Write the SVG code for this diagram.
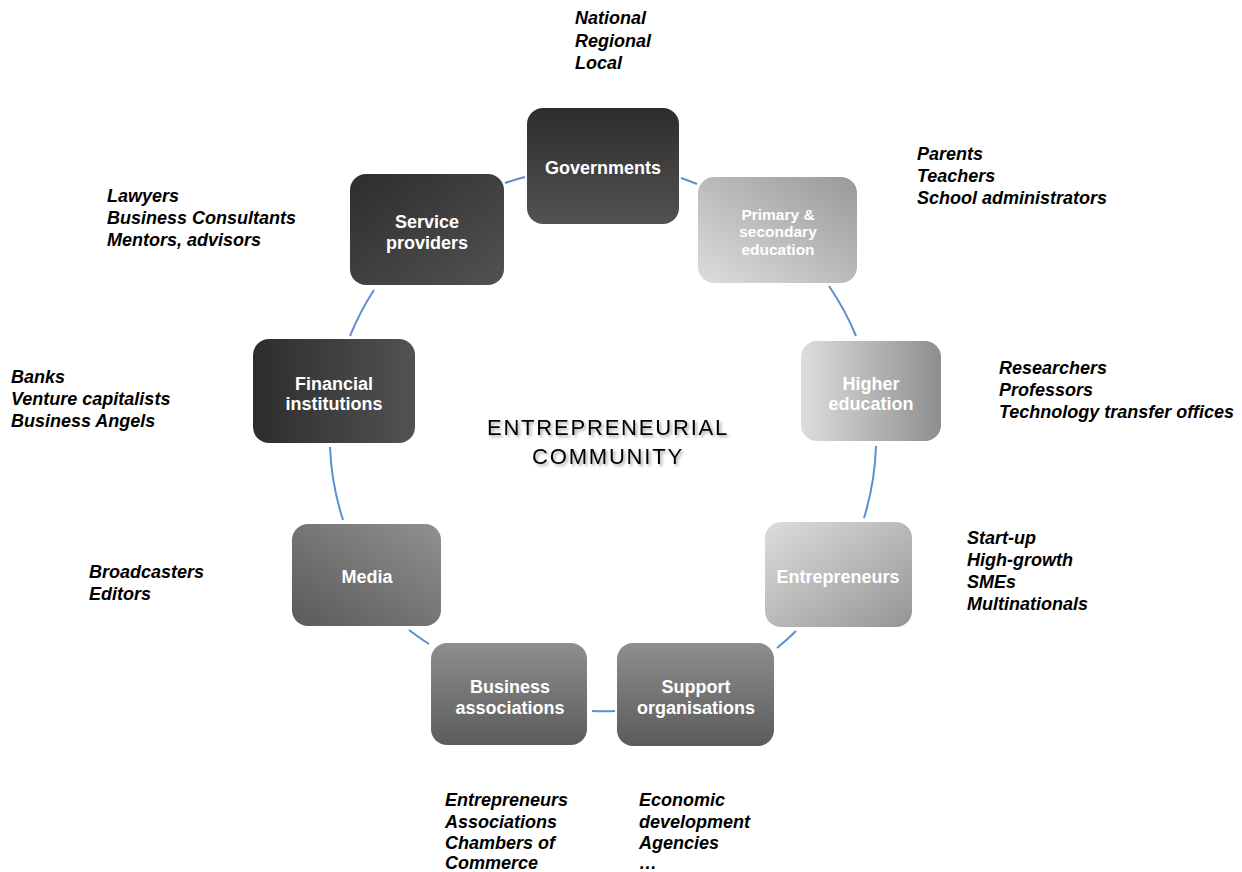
<svg xmlns="http://www.w3.org/2000/svg" width="1242" height="872" viewBox="0 0 1242 872">
<defs>
<linearGradient id="gGov" x1="0" y1="0" x2="0" y2="1"><stop offset="0" stop-color="#2d2d2d"/><stop offset="1" stop-color="#525252"/></linearGradient>
<linearGradient id="gPrim" x1="1" y1="0" x2="0" y2="1"><stop offset="0" stop-color="#999999"/><stop offset="1" stop-color="#dddddd"/></linearGradient>
<linearGradient id="gHigh" x1="0" y1="0" x2="1" y2="0"><stop offset="0" stop-color="#dddddd"/><stop offset="1" stop-color="#8e8e8e"/></linearGradient>
<linearGradient id="gEnt" x1="0" y1="0" x2="1" y2="1"><stop offset="0" stop-color="#dddddd"/><stop offset="1" stop-color="#959595"/></linearGradient>
<linearGradient id="gSup" x1="0" y1="0" x2="0" y2="1"><stop offset="0" stop-color="#8e8e8e"/><stop offset="1" stop-color="#5b5b5b"/></linearGradient>
<linearGradient id="gMed" x1="0" y1="1" x2="1" y2="0"><stop offset="0" stop-color="#5a5a5a"/><stop offset="1" stop-color="#909090"/></linearGradient>
<linearGradient id="gFin" x1="0" y1="0" x2="1" y2="0"><stop offset="0" stop-color="#2d2d2d"/><stop offset="1" stop-color="#525252"/></linearGradient>
<linearGradient id="gSer" x1="0" y1="0" x2="1" y2="1"><stop offset="0" stop-color="#2d2d2d"/><stop offset="1" stop-color="#525252"/></linearGradient>
<filter id="sh" x="-10%" y="-30%" width="120%" height="160%"><feDropShadow dx="2" dy="2" stdDeviation="1.5" flood-color="#000" flood-opacity="0.35"/></filter>
</defs>
<style>
.node text{font-family:"Liberation Sans",Arial,sans-serif;font-weight:bold;font-size:18px;fill:#ffffff;text-anchor:middle}
.node .sm{font-size:15.5px}
.lbl{font-family:"Liberation Sans",Arial,sans-serif;font-weight:bold;font-style:italic;font-size:18px;fill:#000}
.conn path{fill:none;stroke:#5b8fd0;stroke-width:2}
.center{font-family:"Liberation Sans",Arial,sans-serif;font-size:22px;letter-spacing:1.8px;fill:#000;text-anchor:middle}
</style>
<rect width="1242" height="872" fill="#ffffff"/>
<g class="conn">
<path d="M505,183 A272,272 0 0 1 525,177"/>
<path d="M681,178 A272,272 0 0 1 697,184"/>
<path d="M829,286 A272,272 0 0 1 856,336"/>
<path d="M876,446 A272,272 0 0 1 864,518"/>
<path d="M796,631 A272,272 0 0 1 777,648"/>
<path d="M615,711 A272,272 0 0 1 592,711"/>
<path d="M429,644 A272,272 0 0 1 409,630"/>
<path d="M343,520 A272,272 0 0 1 330,447"/>
<path d="M350,336 A272,272 0 0 1 374,290"/>
</g>
<g id="governments" class="node"><rect x="527" y="108" width="152" height="116" rx="16" fill="url(#gGov)"/><text x="603" y="174">Governments</text></g>
<g id="primary" class="node"><rect x="698" y="177" width="159" height="106" rx="16" fill="url(#gPrim)"/><text class="sm" x="778" y="220">Primary &amp;</text><text class="sm" x="778" y="237">secondary</text><text class="sm" x="778" y="255">education</text></g>
<g id="higher" class="node"><rect x="801" y="341" width="140" height="100" rx="16" fill="url(#gHigh)"/><text x="871" y="390">Higher</text><text x="871" y="410">education</text></g>
<g id="entrepreneurs" class="node"><rect x="765" y="522" width="147" height="105" rx="16" fill="url(#gEnt)"/><text x="838" y="583">Entrepreneurs</text></g>
<g id="support" class="node"><rect x="617" y="643" width="157" height="103" rx="16" fill="url(#gSup)"/><text x="696" y="693">Support</text><text x="696" y="714">organisations</text></g>
<g id="business" class="node"><rect x="431" y="643" width="156" height="102" rx="16" fill="url(#gSup)"/><text x="510" y="693">Business</text><text x="510" y="714">associations</text></g>
<g id="media" class="node"><rect x="292" y="524" width="149" height="102" rx="16" fill="url(#gMed)"/><text x="367" y="583">Media</text></g>
<g id="financial" class="node"><rect x="253" y="339" width="162" height="104" rx="16" fill="url(#gFin)"/><text x="334" y="390">Financial</text><text x="334" y="410">institutions</text></g>
<g id="service" class="node"><rect x="350" y="174" width="154" height="111" rx="16" fill="url(#gSer)"/><text x="427" y="228">Service</text><text x="427" y="249">providers</text></g>
<g id="center" filter="url(#sh)"><text class="center" x="608" y="435">ENTREPRENEURIAL</text><text class="center" x="608" y="464">COMMUNITY</text></g>
<g id="labels">
<text class="lbl" x="575" y="24">National</text><text class="lbl" x="575" y="47">Regional</text><text class="lbl" x="575" y="69">Local</text>
<text class="lbl" x="917" y="160">Parents</text><text class="lbl" x="917" y="182">Teachers</text><text class="lbl" x="917" y="204">School administrators</text>
<text class="lbl" x="107" y="202">Lawyers</text><text class="lbl" x="107" y="224">Business Consultants</text><text class="lbl" x="107" y="246">Mentors, advisors</text>
<text class="lbl" x="999" y="374">Researchers</text><text class="lbl" x="999" y="396">Professors</text><text class="lbl" x="999" y="418">Technology transfer offices</text>
<text class="lbl" x="11" y="383">Banks</text><text class="lbl" x="11" y="405">Venture capitalists</text><text class="lbl" x="11" y="427">Business Angels</text>
<text class="lbl" x="967" y="544">Start-up</text><text class="lbl" x="967" y="566">High-growth</text><text class="lbl" x="967" y="588">SMEs</text><text class="lbl" x="967" y="610">Multinationals</text>
<text class="lbl" x="89" y="578">Broadcasters</text><text class="lbl" x="89" y="600">Editors</text>
<text class="lbl" x="445" y="806">Entrepreneurs</text><text class="lbl" x="445" y="828">Associations</text><text class="lbl" x="445" y="849">Chambers of</text><text class="lbl" x="445" y="869">Commerce</text>
<text class="lbl" x="639" y="806">Economic</text><text class="lbl" x="639" y="828">development</text><text class="lbl" x="639" y="849">Agencies</text><text class="lbl" x="639" y="869">…</text>
</g>
</svg>
